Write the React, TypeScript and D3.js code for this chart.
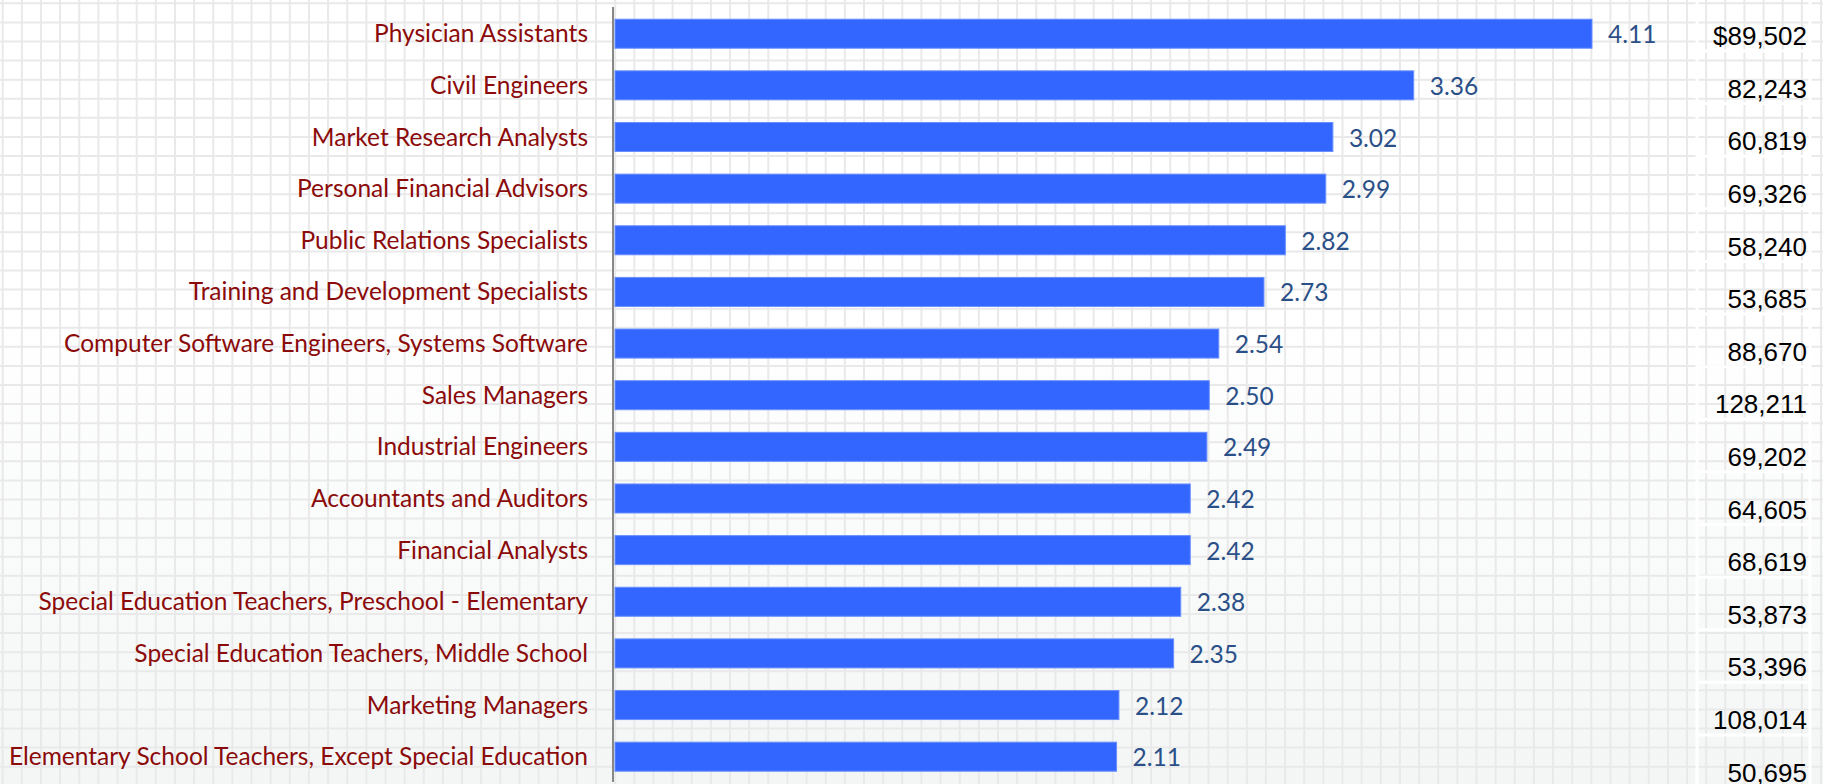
import React, { useRef, useEffect } from 'react';
import { select, scaleLinear, scaleBand, scalePoint, range, format } from 'd3';

const occupations = [
  'Physician Assistants',
  'Civil Engineers',
  'Market Research Analysts',
  'Personal Financial Advisors',
  'Public Relations Specialists',
  'Training and Development Specialists',
  'Computer Software Engineers, Systems Software',
  'Sales Managers',
  'Industrial Engineers',
  'Accountants and Auditors',
  'Financial Analysts',
  'Special Education Teachers, Preschool - Elementary',
  'Special Education Teachers, Middle School',
  'Marketing Managers',
  'Elementary School Teachers, Except Special Education',
];

const scores = [4.11, 3.36, 3.02, 2.99, 2.82, 2.73, 2.54, 2.5, 2.49, 2.42, 2.42, 2.38, 2.35, 2.12, 2.11];

const salaries = [
  89502, 82243, 60819, 69326, 58240, 53685, 88670, 128211, 69202, 64605, 68619, 53873, 53396, 108014,
  50695,
];

const W = 1823;
const H = 784;

const App = () => {
  const svgRef = useRef(null);

  useEffect(() => {
    const svg = select(svgRef.current);
    svg.selectAll('*').remove();

    // background + gradient
    const defs = svg.append('defs');
    const grad = defs
      .append('linearGradient')
      .attr('id', 'bg')
      .attr('x1', 0)
      .attr('y1', 0)
      .attr('x2', 0)
      .attr('y2', 1);
    grad.append('stop').attr('offset', '0.4').attr('stop-color', '#ffffff');
    grad.append('stop').attr('offset', '1').attr('stop-color', '#f4f6f6');
    svg.append('rect').attr('width', W).attr('height', H).attr('fill', 'url(#bg)');

    // graph-paper grid
    const grid = svg.append('g').attr('stroke', '#e9e9e9').attr('stroke-width', 2);
    grid
      .selectAll('.v')
      .data(range(2.7, W, 19.14))
      .join('line')
      .attr('x1', (d) => d)
      .attr('x2', (d) => d)
      .attr('y1', 0)
      .attr('y2', H);
    grid
      .selectAll('.h')
      .data(range(3.3, H, 19.085))
      .join('line')
      .attr('x1', 0)
      .attr('x2', W)
      .attr('y1', (d) => d)
      .attr('y2', (d) => d);

    const xScale = scaleLinear().domain([0, 4.5]).range([615, 1684.7]);
    const yScale = scaleBand().domain(occupations).range([19.2, 771.2]).paddingInner(0.438).paddingOuter(0);
    const salaryY = scalePoint().domain(occupations).range([36, 772.5]);

    // salary column cell borders
    const cells = svg.append('g').attr('stroke', '#ffffff').attr('stroke-width', 3);
    cells.append('line').attr('x1', 1697).attr('x2', 1697).attr('y1', 0).attr('y2', H);
    cells.append('line').attr('x1', 1810).attr('x2', 1810).attr('y1', 0).attr('y2', H);
    cells
      .selectAll('.sep')
      .data(occupations.slice(0, -1))
      .join('line')
      .attr('x1', 1697)
      .attr('x2', 1810)
      .attr('y1', (d) => salaryY(d) + 15)
      .attr('y2', (d) => salaryY(d) + 15);

    // bars
    svg
      .selectAll('.bar')
      .data(occupations)
      .join('rect')
      .attr('class', 'bar')
      .attr('x', xScale(0))
      .attr('y', (d) => yScale(d))
      .attr('width', (d, i) => xScale(scores[i]) - xScale(0))
      .attr('height', yScale.bandwidth())
      .attr('fill', '#3366ff')
      .attr('stroke', '#6a8fff')
      .attr('stroke-width', 1);

    // axis line
    svg
      .append('line')
      .attr('x1', 613)
      .attr('x2', 613)
      .attr('y1', 7)
      .attr('y2', 782)
      .attr('stroke', '#888888')
      .attr('stroke-width', 2);

    // category labels
    svg
      .selectAll('.cat')
      .data(occupations)
      .join('text')
      .attr('class', 'cat')
      .attr('x', 588)
      .attr('y', (d) => yScale(d) + yScale.bandwidth() / 2)
      .attr('dy', '0.35em')
      .attr('text-anchor', 'end')
      .attr('font-family', 'Lato, "Open Sans", sans-serif')
      .attr('font-size', 24.5)
      .attr('fill', '#8b0a0a')
      .text((d) => d);

    // value labels
    svg
      .selectAll('.val')
      .data(occupations)
      .join('text')
      .attr('class', 'val')
      .attr('x', (d, i) => xScale(scores[i]) + 16)
      .attr('y', (d) => yScale(d) + yScale.bandwidth() / 2 + 1)
      .attr('dy', '0.35em')
      .attr('font-family', 'Lato, "Open Sans", sans-serif')
      .attr('font-size', 24.5)
      .attr('fill', '#2b5088')
      .text((d, i) => scores[i].toFixed(2));

    // salaries
    const fmt = format(',');
    svg
      .selectAll('.sal')
      .data(occupations)
      .join('text')
      .attr('class', 'sal')
      .attr('x', 1807)
      .attr('y', (d) => salaryY(d))
      .attr('dy', '0.35em')
      .attr('text-anchor', 'end')
      .attr('font-family', '"Liberation Sans", Arial, sans-serif')
      .attr('font-size', 26)
      .attr('fill', '#000000')
      .text((d, i) => (i === 0 ? '$' : '') + fmt(salaries[i]));
  }, []);

  return (
    <svg
      ref={svgRef}
      width={W}
      height={H}
      style={{ position: 'absolute', left: 0, top: 0, display: 'block' }}
    />
  );
};

export default App;
